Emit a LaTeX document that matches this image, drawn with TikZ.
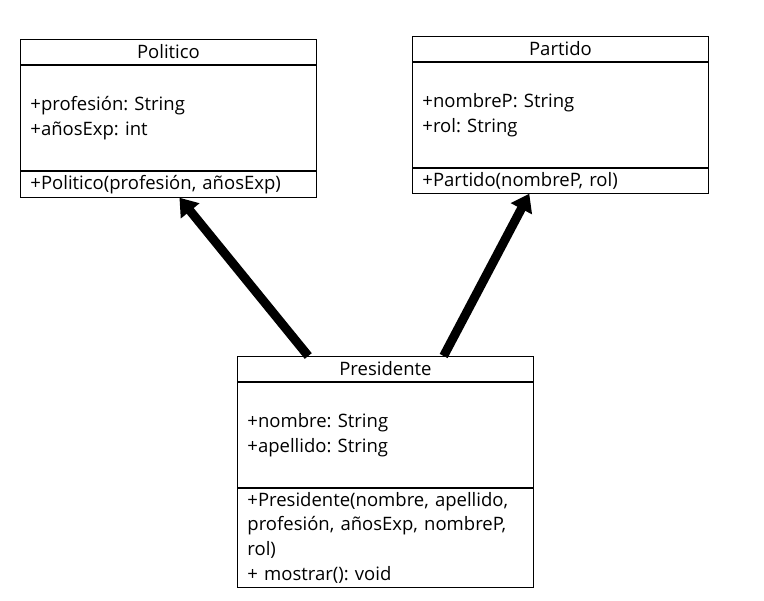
\documentclass[tikz,border=0pt]{standalone}
\usepackage{fontspec}
\setmainfont{Open Sans}
\frenchspacing
\usetikzlibrary{arrows.meta,calc}
\begin{document}
\begin{tikzpicture}[x=1bp,y=-1bp,
  every node/.style={font=\fontsize{18.5bp}{24.7bp}\selectfont},
  comp/.style={draw=black, line width=0.9bp, rectangle, inner xsep=10bp, inner ysep=0pt,
    text width=276bp, minimum width=296bp, anchor=north west, align=left},
  ttl/.style={comp, align=center},
  inh/.style={line width=9bp, -{Triangle[length=17bp,width=23bp]}, shorten >=0pt}
]
\useasboundingbox (0,0) rectangle (764,601);
% Politico
\node[ttl, minimum height=25bp] (polT) at (20,39) {Politico};
\node[comp, minimum height=105bp] (polA) at (polT.south west) {+profesión: String\\+añosExp: int};
\node[comp, minimum height=26bp] (polM) at (polA.south west) {+Politico(profesión, añosExp)};
% Partido
\node[ttl, minimum height=25bp] (parT) at (412,36) {Partido};
\node[comp, minimum height=105bp] (parA) at (parT.south west) {+nombreP: String\\+rol: String};
\node[comp, minimum height=25bp] (parM) at (parA.south west) {+Partido(nombreP, rol)};
% Presidente
\node[ttl, minimum height=25bp] (preT) at (237,356) {Presidente};
\node[comp, minimum height=105bp] (preA) at (preT.south west) {+nombre: String\\+apellido: String};
\node[comp, minimum height=99bp] (preM) at (preA.south west) {+Presidente(nombre, apellido,\\profesión, añosExp, nombreP,\\rol)\\+ mostrar(): void};
% connectors
\coordinate (s1) at ($(preT.north west)!0.24!(preT.north east)$);
\coordinate (e1) at ($(polM.south west)!0.537!(polM.south east)$);
\coordinate (s2) at ($(preT.north west)!0.696!(preT.north east)$);
\coordinate (e2) at ($(parM.south west)!0.395!(parM.south east)$);
\draw[inh] (s1) -- (e1);
\draw[inh] (s2) -- (e2);
\end{tikzpicture}
\end{document}
